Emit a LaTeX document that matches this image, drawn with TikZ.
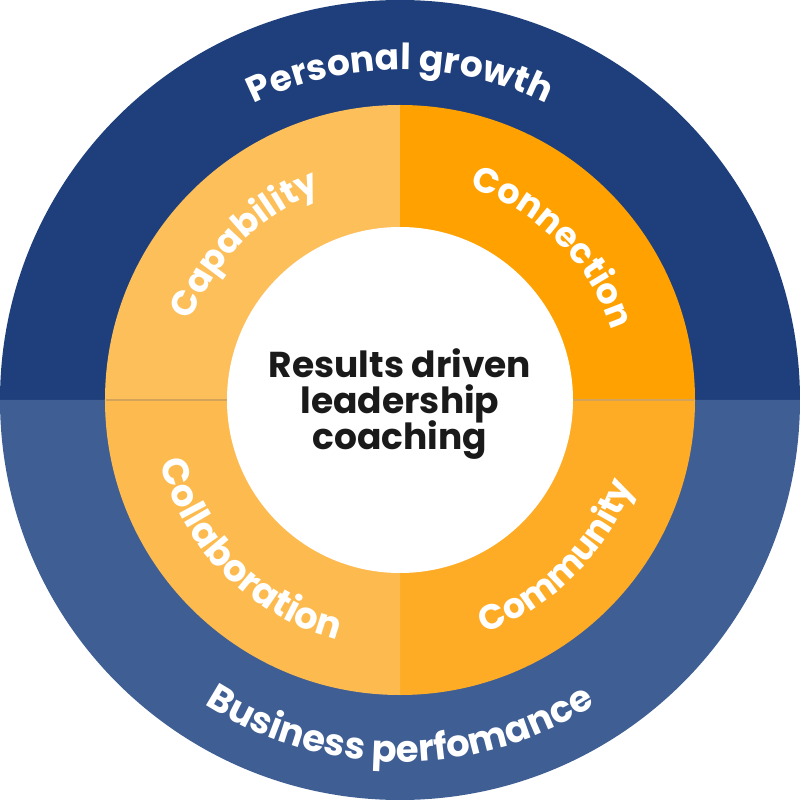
\documentclass[tikz,border=0pt]{standalone}
\usepackage{fontspec}
\newfontfamily\pf{Poppins}
\usetikzlibrary{decorations.text}
\definecolor{darkblue}{HTML}{1E3F7B}
\definecolor{lightblue}{HTML}{3E5E94}
\definecolor{qtl}{HTML}{FDBF5A}
\definecolor{qtr}{HTML}{FFA100}
\definecolor{qbr}{HTML}{FEAC26}
\definecolor{qbl}{HTML}{FDBB4F}
\definecolor{sepline}{HTML}{D3A35A}
\definecolor{centertext}{HTML}{1A1A1A}
\tikzset{
  centerline/.style={font=\pf\bfseries\fontsize{36}{36}\selectfont,text=centertext,anchor=base,inner sep=0pt}
}
\newcommand{\ringlabel}[3]{\path[decorate,decoration={text along path,text align=center,text color=white,
    text={|\pf\bfseries\fontsize{#1}{#1}\selectfont|#2}}] #3;}
\begin{document}
\begin{tikzpicture}[x=1pt,y=1pt]
\useasboundingbox (-400,-400) rectangle (400,400);
% outer ring
\fill[darkblue] (-400,0) arc[start angle=180,end angle=0,radius=400] -- cycle;
\fill[lightblue] (-400,0) arc[start angle=180,end angle=360,radius=400] -- cycle;
% quadrants
\fill[qtl] (0,0) -- (-295,0) arc[start angle=180,end angle=90,radius=295] -- cycle;
\fill[qtr] (0,0) -- (0,295) arc[start angle=90,end angle=0,radius=295] -- cycle;
\fill[qbr] (0,0) -- (295,0) arc[start angle=0,end angle=-90,radius=295] -- cycle;
\fill[qbl] (0,0) -- (0,-295) arc[start angle=-90,end angle=-180,radius=295] -- cycle;
% separators
\draw[sepline,line width=1pt] (-294,0) -- (-173,0);
\draw[sepline,line width=1pt] (173,0) -- (294,0);
% inner circle
\fill[white] (0,0) circle[radius=173];
% outer labels
\ringlabel{36}{Personal growth}{(-330,0) arc[start angle=180,end angle=0,radius=330]}
\ringlabel{37}{Business perfomance}{(-362,0) arc[start angle=180,end angle=360,radius=362]}
% middle labels
\ringlabel{35}{Capability}{(-223,0) arc[start angle=180,end angle=90,radius=223]}
\ringlabel{35}{Connection}{(0,223) arc[start angle=90,end angle=0,radius=223]}
\ringlabel{35}{Community}{(0,-248) arc[start angle=270,end angle=360,radius=248]}
\ringlabel{37}{Collaboration}{(-248,0) arc[start angle=180,end angle=270,radius=248]}
% center text
\node[centerline] (l1) at (0,23) {Results driven};
\node[centerline] (l2) at (0,-13) {leadership};
\node[centerline] (l3) at (0,-49) {coaching};
\end{tikzpicture}
\end{document}
